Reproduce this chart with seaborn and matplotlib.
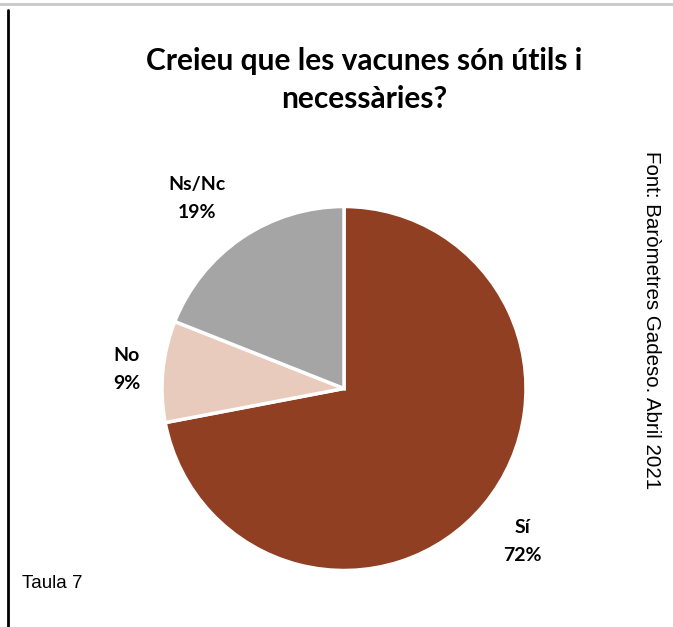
import numpy as np
import matplotlib.pyplot as plt
import seaborn as sns

categories = ["Sí", "No", "Ns/Nc"]
values = [72, 9, 19]
colors = ["#913F22", "#E8CBBC", "#A5A5A5"]

sns.set_style("white")
plt.rcParams['font.family'] = ['Lato', 'DejaVu Sans']
plt.rcParams['text.color'] = 'black'

W, H = 673, 627
fig = plt.figure(figsize=(W / 100, H / 100), dpi=100)
ax = fig.add_axes([0, 0, 1, 1])

# pie, clockwise from 12 o'clock
cx, cy, r = 344, H - 388.5, 182
wedges, _ = ax.pie(values, colors=colors, startangle=90, counterclock=False,
                   center=(cx, cy), radius=r, frame=True,
                   wedgeprops=dict(edgecolor="white", linewidth=2.5))
ax.set_xlim(0, W)
ax.set_ylim(0, H)
ax.set_aspect("equal")
ax.axis("off")

# data labels outside the wedges (distance in radii, angle shift in degrees)
dists = [1.29, 1.2, 1.32]
shifts = [-1.0, 0.4, 3.5]
for w, cat, v, d, s in zip(wedges, categories, values, dists, shifts):
    ang = np.deg2rad((w.theta1 + w.theta2) / 2 + s)
    x = cx + d * r * np.cos(ang)
    y = cy + d * r * np.sin(ang)
    ax.text(x, y, f"{cat}\n{v}%", ha="center", va="center", fontsize=14,
            fontweight="bold", linespacing=1.75)

ax.text(364, H - 80, "Creieu que les vacunes són útils i\nnecessàries?",
        ha="center", va="center", fontsize=21.5, fontweight="bold",
        linespacing=1.4)

ax.text(22, H - 584, "Taula 7", ha="left", va="center", fontsize=13.5,
        family="Liberation Sans")
ax.text(652, H - 320, "Font: Baròmetres Gadeso. Abril 2021", ha="center",
        va="center", rotation=-90, fontsize=14.8, family="Liberation Sans")

# frame lines
ax.plot([0, W], [H - 4, H - 4], color="#C8C8C8", lw=2)
ax.plot([8, 8], [0, H - 10], color="black", lw=2)

fig.savefig("out.png", dpi=100)
